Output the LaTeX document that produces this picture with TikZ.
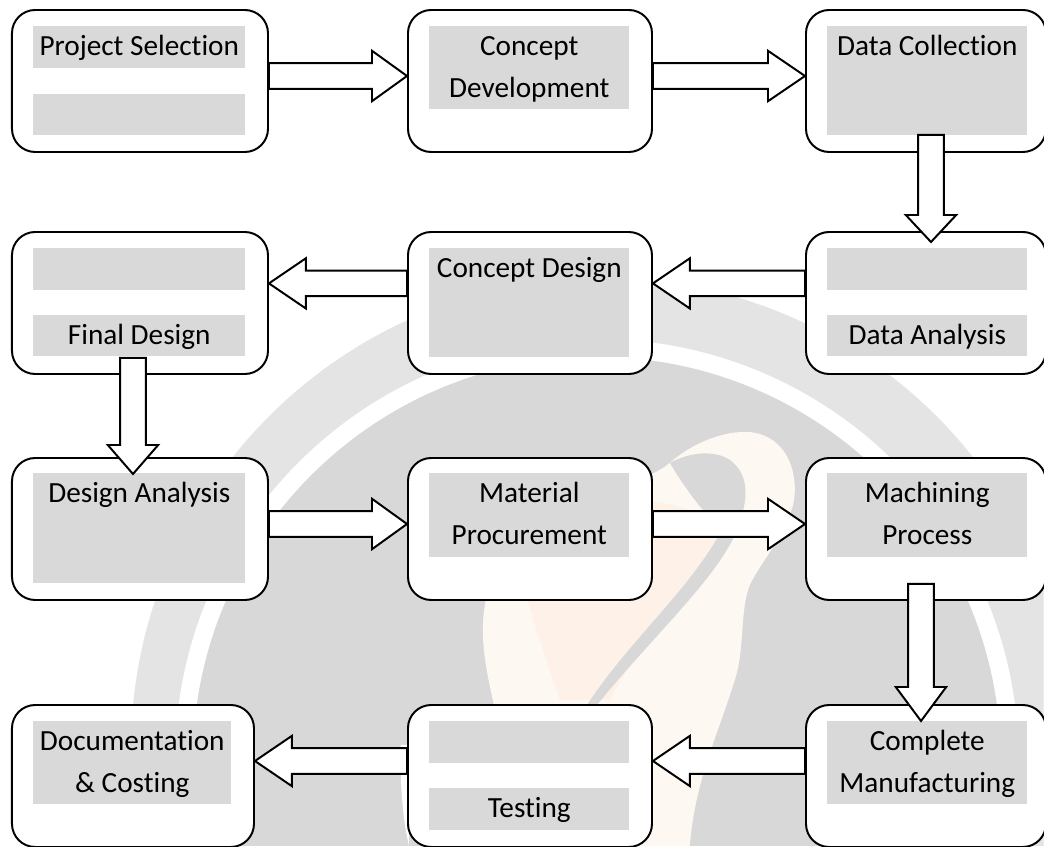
\documentclass[tikz,border=0pt]{standalone}
\usepackage{fontspec}
\setmainfont[Ligatures=NoCommon]{Carlito}
\usetikzlibrary{calc}

\definecolor{wmdark}{HTML}{D8D8D8}
\definecolor{wmlight}{HTML}{E4E4E4}
\definecolor{wmpale}{HTML}{FEF8F3}
\definecolor{wmorange}{HTML}{FDF1E8}
\definecolor{fieldgray}{HTML}{D9D9D9}

\tikzset{
	stepbox/.style={draw, fill=white, line width=1.4pt, rounded corners=0.58cm, anchor=north west, minimum height=3.55cm, inner sep=0},
	fieldbox/.style={fill=fieldgray, anchor=north west, inner sep=0},
	fieldtext/.style={anchor=north, text width=5.3cm, align=flush center, inner sep=0, font=\fontsize{20.8}{29.6}\selectfont, execute at begin node=\strut},
	blockarrow/.style={draw, fill=white, line width=1.4pt, line join=miter, to path={
		-- ($(\tikztostart)!0.32cm!90:(\tikztotarget)$)
		-- ($($(\tikztotarget)!#1!(\tikztostart)$)!0.32cm!90:(\tikztotarget)$)
		-- ($($(\tikztotarget)!#1!(\tikztostart)$)!0.63cm!90:(\tikztotarget)$)
		-- (\tikztotarget)
		-- ($($(\tikztotarget)!#1!(\tikztostart)$)!0.63cm!-90:(\tikztotarget)$)
		-- ($($(\tikztotarget)!#1!(\tikztostart)$)!0.32cm!-90:(\tikztotarget)$)
		-- ($(\tikztostart)!0.32cm!-90:(\tikztotarget)$)
		-- cycle}}
}

\begin{document}
\begin{tikzpicture}
	\useasboundingbox (0, 0) rectangle (26.1, -21.15);

	% faint logo behind the flow
	\begin{scope}[x=0.025cm, y=-0.025cm]
		\clip (0, 0) rectangle (1044, 846);
		\fill[wmlight] (603, 750) circle (472);
		\fill[white] (597, 761) circle (422);
		\fill[wmdark] (597, 761) circle (404);
		\fill[wmpale] (670, 463) .. controls (690, 445) and (720, 432) .. (745, 432)
			.. controls (775, 432) and (795, 455) .. (795, 490)
			.. controls (795, 525) and (765, 555) .. (750, 585)
			.. controls (740, 610) and (745, 650) .. (735, 680)
			.. controls (720, 730) and (695, 780) .. (690, 846)
			-- (520, 846) .. controls (515, 760) and (483, 690) .. (483, 630)
			.. controls (483, 560) and (530, 500) .. (600, 490)
			.. controls (640, 480) and (655, 475) .. (670, 463) -- cycle;
		\fill[wmorange] (520, 560) .. controls (580, 500) and (660, 480) .. (725, 530)
			.. controls (700, 590) and (640, 640) .. (610, 700)
			-- (560, 700) .. controls (540, 640) and (525, 600) .. (520, 560) -- cycle;
		\fill[wmdark] (670, 463) .. controls (690, 452) and (715, 450) .. (730, 460)
			.. controls (750, 475) and (750, 500) .. (735, 535)
			.. controls (715, 580) and (650, 640) .. (598, 704)
			-- (588, 704) .. controls (630, 640) and (690, 590) .. (722, 530)
			.. controls (700, 510) and (680, 480) .. (670, 463) -- cycle;
		\fill[white] (401, 745) .. controls (400, 780) and (402, 815) .. (409, 846)
			-- (409, 745) -- cycle;
	\end{scope}

	\node[stepbox, minimum width=6.4cm] (projsel) at (0.275, -0.225) {};
	\node[stepbox, minimum width=6.1cm] (conceptdev) at (10.175, -0.225) {};
	\node[stepbox, minimum width=6cm] (datacoll) at (20.125, -0.225) {};

	\node[stepbox, minimum width=6.4cm] (finaldes) at (0.275, -5.775) {};
	\node[stepbox, minimum width=6.1cm] (conceptdes) at (10.175, -5.775) {};
	\node[stepbox, minimum width=6cm] (dataana) at (20.125, -5.775) {};

	\node[stepbox, minimum width=6.4cm] (desana) at (0.275, -11.425) {};
	\node[stepbox, minimum width=6.1cm] (matproc) at (10.175, -11.425) {};
	\node[stepbox, minimum width=6cm] (machproc) at (20.125, -11.425) {};

	\node[stepbox, minimum width=6.05cm] (doccost) at (0.275, -17.6) {};
	\node[stepbox, minimum width=6.1cm] (testing) at (10.175, -17.6) {};
	\node[stepbox, minimum width=6cm] (compman) at (20.125, -17.6) {};

	\node[fieldbox, minimum width=5.3cm, minimum height=1.05cm] (projselA) at (0.825, -0.65) {};
	\node[fieldbox, minimum width=5.3cm, minimum height=1.03cm] (projselB) at (0.825, -2.35) {};
	\node[fieldbox, minimum width=5cm, minimum height=2.08cm] (conceptdevA) at (10.725, -0.65) {};
	\node[fieldbox, minimum width=5cm, minimum height=2.73cm] (datacollA) at (20.675, -0.65) {};

	\node[fieldbox, minimum width=5.3cm, minimum height=1.05cm] (finaldesA) at (0.825, -6.2) {};
	\node[fieldbox, minimum width=5.3cm, minimum height=1.03cm] (finaldesB) at (0.825, -7.875) {};
	\node[fieldbox, minimum width=5cm, minimum height=2.73cm] (conceptdesA) at (10.725, -6.2) {};
	\node[fieldbox, minimum width=5cm, minimum height=1.05cm] (dataanaA) at (20.675, -6.2) {};
	\node[fieldbox, minimum width=5cm, minimum height=1.03cm] (dataanaB) at (20.675, -7.875) {};

	\node[fieldbox, minimum width=5.3cm, minimum height=2.75cm] (desanaA) at (0.825, -11.825) {};
	\node[fieldbox, minimum width=5cm, minimum height=2.1cm] (matprocA) at (10.725, -11.825) {};
	\node[fieldbox, minimum width=5cm, minimum height=2.1cm] (machprocA) at (20.675, -11.825) {};

	\node[fieldbox, minimum width=4.95cm, minimum height=2.08cm] (doccostA) at (0.825, -18.025) {};
	\node[fieldbox, minimum width=5cm, minimum height=1.05cm] (testingA) at (10.725, -18.025) {};
	\node[fieldbox, minimum width=5cm, minimum height=1.05cm] (testingB) at (10.725, -19.7) {};
	\node[fieldbox, minimum width=5cm, minimum height=2.08cm] (compmanA) at (20.675, -18.025) {};

	\draw[blockarrow=0.875cm] ([yshift=0.125cm]projsel.east) to ([yshift=0.125cm]conceptdev.west);
	\draw[blockarrow=0.925cm] ([yshift=0.125cm]conceptdev.east) to ([yshift=0.125cm]datacoll.west);
	\draw[blockarrow=0.675cm] ([shift={(0.125, 0.45)}]datacoll.south) to ([shift={(0.125, -0.275)}]dataana.north);
	\draw[blockarrow=0.925cm] ([yshift=0.49cm]dataana.west) to ([yshift=0.49cm]conceptdes.east);
	\draw[blockarrow=0.925cm] ([yshift=0.49cm]conceptdes.west) to ([yshift=0.49cm]finaldes.east);
	\draw[blockarrow=0.725cm] ([shift={(-0.175, 0.425)}]finaldes.south) to ([shift={(-0.175, -0.425)}]desana.north);
	\draw[blockarrow=0.875cm] ([yshift=0.125cm]desana.east) to ([yshift=0.125cm]matproc.west);
	\draw[blockarrow=0.925cm] ([yshift=0.125cm]matproc.east) to ([yshift=0.125cm]machproc.west);
	\draw[blockarrow=0.85cm] ([shift={(-0.125, 0.425)}]machproc.south) to ([shift={(-0.125, -0.425)}]compman.north);
	\draw[blockarrow=0.925cm] ([yshift=0.375cm]compman.west) to ([yshift=0.375cm]testing.east);
	\draw[blockarrow=0.925cm] ([yshift=0.375cm]testing.west) to ([yshift=0.375cm]doccost.east);

	\node[fieldtext] (projselT) at (projselA.north) {Project Selection};
	\node[fieldtext] (conceptdevT) at (conceptdevA.north) {Concept\\Development};
	\node[fieldtext] (datacollT) at (datacollA.north) {Data Collection};
	\node[fieldtext] (finaldesT) at (finaldesB.north) {Final Design};
	\node[fieldtext] (conceptdesT) at (conceptdesA.north) {Concept Design};
	\node[fieldtext] (dataanaT) at (dataanaB.north) {Data Analysis};
	\node[fieldtext] (desanaT) at (desanaA.north) {Design Analysis};
	\node[fieldtext] (matprocT) at (matprocA.north) {Material\\Procurement};
	\node[fieldtext] (machprocT) at (machprocA.north) {Machining\\Process};
	\node[fieldtext] (doccostT) at (doccostA.north) {Documentation\\\& Costing};
	\node[fieldtext] (testingT) at (testingB.north) {Testing};
	\node[fieldtext] (compmanT) at (compmanA.north) {Complete\\Manufacturing};
\end{tikzpicture}
\end{document}
